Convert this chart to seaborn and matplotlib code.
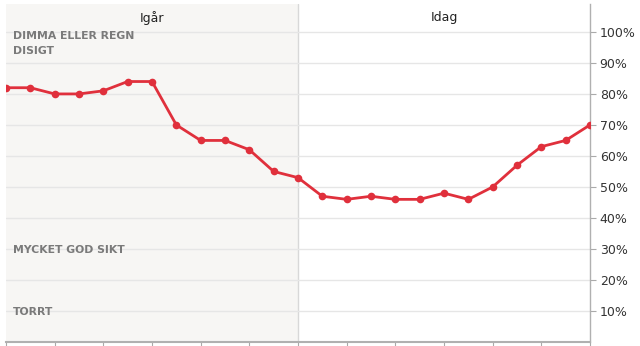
import matplotlib
matplotlib.use("Agg")
import matplotlib.pyplot as plt
import seaborn as sns
import pandas as pd
import numpy as np

values = [82, 82, 80, 80, 81, 84, 84, 70, 65, 65, 62, 55, 53,
          47, 46, 47, 46, 46, 48, 46, 50, 57, 63, 65, 70]
hours = list(range(len(values)))
day_labels = ["Igår", "Idag"]
day_split = 12
band_labels = ["DIMMA ELLER REGN", "DISIGT", "MYCKET GOD SIKT", "TORRT"]
band_levels = [98.8, 94.0, 29.6, 9.6]
ytick_vals = [10, 20, 30, 40, 50, 60, 70, 80, 90, 100]
ytick_labels = [f"{v}%" for v in ytick_vals]

sns.set_theme(style="white")
plt.rcParams['font.family'] = ['DejaVu Sans']

fig = plt.figure(figsize=(6.4, 3.46), dpi=100)
W, H = 640, 346
ax = fig.add_axes([6 / W, 4 / H, (590 - 6) / W, (342 - 4) / H])

ax.axvspan(0, day_split, color="#f7f6f4", zorder=0, lw=0)
ax.axvline(day_split, color="#d8d8d8", lw=1, zorder=1)

for v in ytick_vals:
    ax.axhline(v, color="#e6e6e6", lw=1, zorder=1)

df = pd.DataFrame({"hour": hours, "value": values})
sns.lineplot(data=df, x="hour", y="value", ax=ax, color="#e0303c",
             lw=2, marker="o", markersize=5.5, markeredgewidth=0, zorder=3)

ax.set_xlim(0, len(values) - 1)
ax.set_ylim(0, 109)
ax.set_xlabel("")
ax.set_ylabel("")

ax.yaxis.tick_right()
ax.set_yticks(ytick_vals)
ax.set_yticklabels(ytick_labels, fontsize=9, color="#333333")
ax.tick_params(axis="y", length=4, width=0.8, color="#aaaaaa", pad=3, right=True)
ax.set_xticks(list(range(0, len(values), 2)))
ax.set_xticklabels([])
ax.tick_params(axis="x", length=4, width=0.8, color="#aaaaaa", bottom=True, direction="out")

for s in ["top", "left"]:
    ax.spines[s].set_visible(False)
ax.spines["right"].set_color("#b0b0b0")
ax.spines["bottom"].set_color("#b0b0b0")
ax.spines["right"].set_linewidth(1)
ax.spines["bottom"].set_linewidth(1.5)

ax.text(day_split / 2, 104.6, day_labels[0], ha="center", va="center", fontsize=9, color="#222222")
ax.text(day_split + (len(values) - 1 - day_split) / 2, 104.6, day_labels[1],
        ha="center", va="center", fontsize=9, color="#222222")

for lbl, lv in zip(band_labels, band_levels):
    ax.text(0.3, lv, lbl, ha="left", va="center", fontsize=7.8,
            fontweight="bold", color="#7a7a7a")

fig.savefig("out.png", dpi=100)
